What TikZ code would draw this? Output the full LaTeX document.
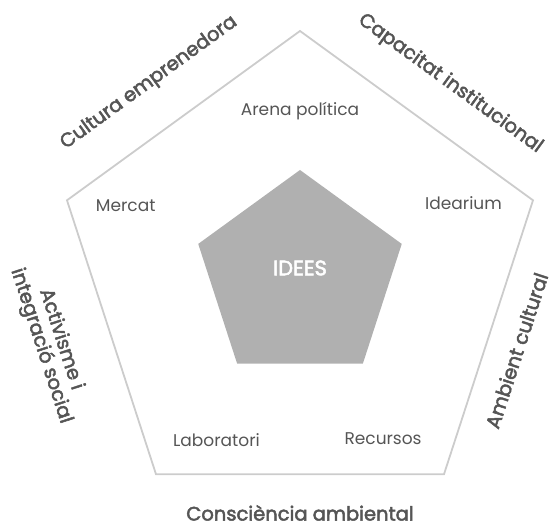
\documentclass[tikz,border=0pt]{standalone}
\usepackage{fontspec}
\setmainfont{Poppins}
\newfontfamily\factorfont[FakeBold=2.5]{Poppins}
\usepackage{tikz}
\usetikzlibrary{shapes.geometric, positioning}
\usepackage{xcolor}
\definecolor{edgegray}{HTML}{CCCCCC}
\definecolor{ideafill}{HTML}{B0B0B0}
\definecolor{textgray}{HTML}{555555}
\tikzset{
  frame/.style={
    regular polygon, regular polygon sides=5, draw=edgegray,
    line width=1.8pt, minimum size=490pt, inner sep=0pt
  },
  idea/.style={
    regular polygon, regular polygon sides=5, fill=ideafill,
    minimum size=214pt, inner sep=0pt
  },
  ideatext/.style={text=white, font=\factorfont\fontsize{21}{23}\selectfont},
  area/.style={text=textgray, font=\fontsize{17}{19}\selectfont},
  factor/.style={
    text=textgray, align=center,
    font=\factorfont\fontsize{19.5}{21}\selectfont
  }
}

\begin{document}
\begin{tikzpicture}[x=1pt, y=1pt]
  \useasboundingbox (-300,276) rectangle (250,-250);

  \node[frame] (marc) at (0,0) {};
  \node[idea] (idees) at (0,-1) {};
  \node[ideatext] (ideestext) at (0,8) {IDEES};

  \node[area] at (90:165) (arena) {Arena política};
  \node[area] at (158:188) (mercat) {Mercat};
  \node[area] at (24:179) (idearium) {Idearium};
  \node[area] at (243:184) (laboratori) {Laboratori};
  \node[area] at (297:183) (recursos) {Recursos};

  \node[factor, rotate=36] at (128:245) (cultura) {Cultura emprenedora};
  \node[factor, rotate=-36] at (52:244) (capacitat) {Capacitat institucional};
  \node[factor, rotate=72] at (-19:229) (ambient) {Ambient cultural};
  \node[factor, rotate=-72] at (195:258) (activisme) {Activisme i\\integració social};
  \node[factor] at (270:237) (consciencia) {Consciència ambiental};
\end{tikzpicture}
\end{document}
